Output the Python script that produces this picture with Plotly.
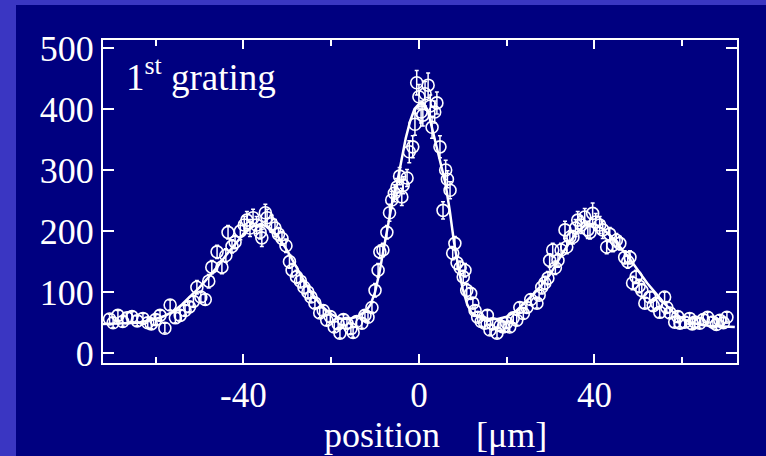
import plotly.graph_objects as go

# ---- measured data (position in µm, counts) ----
pos = [-70.5, -69.7, -68.6, -67.5, -66.5, -65.4, -64.2, -62.9, -61.8, -61.0,
       -60.0, -59.0, -57.9, -56.7, -55.5, -54.4, -53.3, -52.3, -51.4, -50.6,
       -49.7, -48.7, -47.9, -47.2, -46.0, -44.9, -44.0, -43.5, -42.6, -41.9,
       -40.7, -39.8, -39.2, -38.5, -37.8, -37.0, -36.2, -35.8, -35.0, -34.6,
       -33.6, -32.8, -32.0, -31.2, -30.3, -29.5, -28.9, -27.9, -27.0, -26.2,
       -25.3, -24.6, -23.7, -22.6, -21.8, -21.0, -20.2, -19.3, -18.4, -18.0,
       -17.2, -16.4, -15.5, -15.0, -14.2, -13.0, -12.3, -11.6, -10.7, -10.0,
       -9.3, -8.9, -8.2, -7.3, -6.7, -6.2, -5.6, -5.0, -4.4, -3.9,
       -3.6, -2.7, -2.2, -1.4, -0.9, -0.5, 0.0, 0.5, 0.9, 1.4,
       2.1, 2.6, 3.0, 3.6, 4.1, 4.8, 5.5, 6.1, 6.5, 7.1,
       7.7, 8.2, 8.7, 9.4, 10.1, 10.5, 10.9, 11.8, 12.3, 12.8,
       13.4, 14.2, 15.0, 15.6, 16.2, 16.8, 17.8, 18.5, 19.2, 20.0,
       20.7, 21.5, 22.3, 23.0, 23.8, 24.6, 25.5, 26.9, 27.4, 28.0,
       28.7, 29.4, 29.8, 30.5, 31.1, 31.7, 32.4, 33.3, 33.7, 34.4,
       35.1, 35.7, 36.2, 37.0, 37.8, 38.5, 39.0, 39.6, 40.3, 41.2,
       41.9, 42.8, 43.5, 44.2, 45.0, 45.8, 46.9, 47.6, 48.1, 48.7,
       49.5, 50.2, 50.8, 51.5, 52.6, 53.4, 54.2, 54.9, 56.0, 56.5,
       57.2, 58.3, 59.0, 59.5, 60.6, 61.7, 62.3, 62.9, 64.0, 64.8,
       65.8, 67.0, 67.8, 68.6, 69.4, 70.2]
counts = [56, 50, 62, 52, 58, 60, 53, 57, 50, 48,
          55, 62, 41, 79, 58, 62, 70, 76, 85, 108,
          92, 88, 118, 141, 166, 141, 160, 198, 175, 182,
          200, 210, 218, 205, 222, 210, 198, 189, 230, 222,
          212, 205, 195, 188, 176, 150, 136, 125, 118, 108,
          100, 92, 82, 66, 70, 54, 60, 43, 48, 33,
          55, 49, 40, 34, 52, 49, 62, 59, 75, 103,
          136, 166, 169, 198, 230, 251, 262, 272, 290, 256,
          275, 287, 330, 338, 375, 443, 420, 395, 390, 425,
          439, 405, 370, 395, 410, 338, 234, 300, 285, 267,
          164, 180, 148, 140, 125, 136, 103, 98, 82, 70,
          59, 52, 49, 62, 38, 48, 33, 45, 43, 50,
          43, 58, 54, 75, 65, 75, 88, 82, 95, 108,
          115, 123, 152, 169, 140, 152, 169, 202, 174, 190,
          190, 205, 218, 210, 223, 202, 198, 229, 215, 210,
          202, 174, 195, 177, 185, 180, 157, 150, 157, 115,
          125, 110, 103, 82, 92, 78, 82, 67, 92, 75,
          66, 51, 60, 49, 51, 57, 48, 51, 49, 55,
          59, 51, 47, 54, 50, 59]
errs = [8, 8, 8, 8, 8, 8, 8, 8, 8, 8,
        8, 8, 8, 8, 8, 8, 8, 8, 8, 11,
        8, 8, 11, 11, 11, 11, 11, 11, 11, 11,
        14, 14, 14, 14, 14, 14, 11, 14, 14, 14,
        14, 14, 11, 11, 11, 11, 11, 11, 11, 11,
        11, 8, 8, 8, 8, 8, 8, 8, 8, 8,
        8, 8, 8, 8, 8, 8, 8, 8, 8, 11,
        11, 11, 11, 11, 14, 14, 14, 14, 14, 14,
        14, 14, 18, 18, 18, 20, 20, 18, 18, 20,
        20, 18, 18, 18, 18, 18, 14, 16, 14, 14,
        11, 11, 11, 11, 11, 11, 11, 8, 8, 8,
        8, 8, 8, 8, 8, 8, 8, 8, 8, 8,
        8, 8, 8, 8, 8, 8, 8, 8, 8, 11,
        11, 11, 11, 11, 11, 11, 11, 14, 11, 11,
        11, 14, 14, 14, 14, 14, 11, 17, 14, 14,
        14, 11, 11, 11, 11, 11, 11, 11, 11, 11,
        11, 11, 11, 8, 8, 8, 8, 8, 8, 8,
        8, 8, 8, 8, 8, 8, 8, 8, 8, 8,
        8, 8, 8, 8, 8, 8]

# ---- fitted curve ----
fit_pos = [-72, -68, -64, -60, -58, -56, -54, -52, -50, -48, -46, -44, -42, -40,
           -38, -36, -34, -32, -30, -28, -26, -24, -22, -20, -18, -16, -14, -12,
           -11, -10, -9, -8, -7, -6, -5, -4, -3, -2, -1, 0, 1, 2, 3, 4, 5, 6,
           7, 8, 9, 10, 11, 12, 14, 16, 18, 20, 22, 24, 26, 28, 30, 32, 34, 36,
           38, 40, 42, 44, 46, 48, 50, 52, 54, 56, 58, 60, 62, 64, 66, 68, 72]
fit_counts = [48, 49, 50, 56, 61, 68, 80, 94, 108, 124, 141, 160, 178, 195,
              207, 212, 205, 190, 168, 142, 116, 94, 76, 64, 57, 56, 60, 70,
              80, 100, 132, 172, 212, 250, 278, 312, 352, 380, 400, 408, 410, 398, 368, 338, 308, 280,
              235, 182, 140, 105, 80, 66, 58, 56, 56, 60, 68, 82, 96, 112, 130, 155, 178, 198,
              210, 212, 203, 190, 173, 155, 135, 115, 98, 81, 67, 57, 50, 47, 45, 44, 43]

x_ticks = [-40, 0, 40]
x_minor_ticks = [-60, -20, 20, 60]
y_ticks = [0, 100, 200, 300, 400, 500]

NAVY = "#000080"
EDGE = "#3a36c2"
FONT = "Liberation Serif"

fig = go.Figure()
fig.add_trace(go.Scatter(
    x=fit_pos, y=fit_counts, mode="lines",
    line=dict(color="white", width=2.5), hoverinfo="skip", showlegend=False))
fig.add_trace(go.Scatter(
    x=pos, y=counts, mode="markers",
    marker=dict(symbol="circle-open", size=12, color="white", line=dict(width=1.6, color="white")),
    error_y=dict(type="data", array=errs, color="white", thickness=1.5, width=2),
    showlegend=False))

W, H = 766, 456
L, R, T, B = 103, 29, 40, 93
pw, ph = W - L - R, H - T - B

def px(xp):
    return (xp - L) / pw

def py(yp):
    return (H - B - yp) / ph

fig.update_layout(
    width=W, height=H, autosize=False,
    margin=dict(l=L, r=R, t=T, b=B, pad=0),
    paper_bgcolor=NAVY, plot_bgcolor=NAVY,
    font=dict(family=FONT, color="white", size=36),
    shapes=[
        dict(type="rect", xref="paper", yref="paper", x0=px(0), x1=px(16), y0=py(H), y1=py(0),
             fillcolor=EDGE, line=dict(width=0), layer="below"),
        dict(type="rect", xref="paper", yref="paper", x0=px(0), x1=px(W), y0=py(5), y1=py(0),
             fillcolor=EDGE, line=dict(width=0), layer="below"),
    ],
    annotations=[
        dict(text="1<sup>st</sup> grating", xref="paper", yref="paper",
             x=px(124), y=py(49), xanchor="left", yanchor="top", showarrow=False,
             font=dict(family=FONT, size=37, color="white")),
        dict(text="position\u00a0\u00a0\u00a0\u00a0[μm]", xref="paper", yref="paper",
             x=px(435), y=py(435), xanchor="center", yanchor="middle", showarrow=False,
             font=dict(family=FONT, size=36, color="white")),
    ],
)
fig.update_xaxes(
    range=[-72, 72.5], tickvals=x_ticks, ticktext=[str(v) for v in x_ticks],
    ticks="inside", ticklen=9, tickwidth=2, tickcolor="white",
    showline=True, linecolor="white", linewidth=2, mirror="ticks",
    showgrid=False, zeroline=False,
    tickfont=dict(family=FONT, size=35, color="white"),
    minor=dict(tickvals=x_minor_ticks, ticks="inside", ticklen=6, tickwidth=2, tickcolor="white", showgrid=False),
)
fig.update_yaxes(
    range=[-16, 513], tickvals=y_ticks,
    ticks="inside", ticklen=11, tickwidth=2, tickcolor="white",
    showline=True, linecolor="white", linewidth=2, mirror="ticks",
    showgrid=False, zeroline=False,
    tickfont=dict(family=FONT, size=36, color="white"),
)
fig.write_html(
    "out.html",
    config={"displayModeBar": False},
    post_script="document.body.style.margin='0';document.body.style.padding='0';"
                "document.body.style.background='#000080';document.body.style.overflow='hidden';",
)
